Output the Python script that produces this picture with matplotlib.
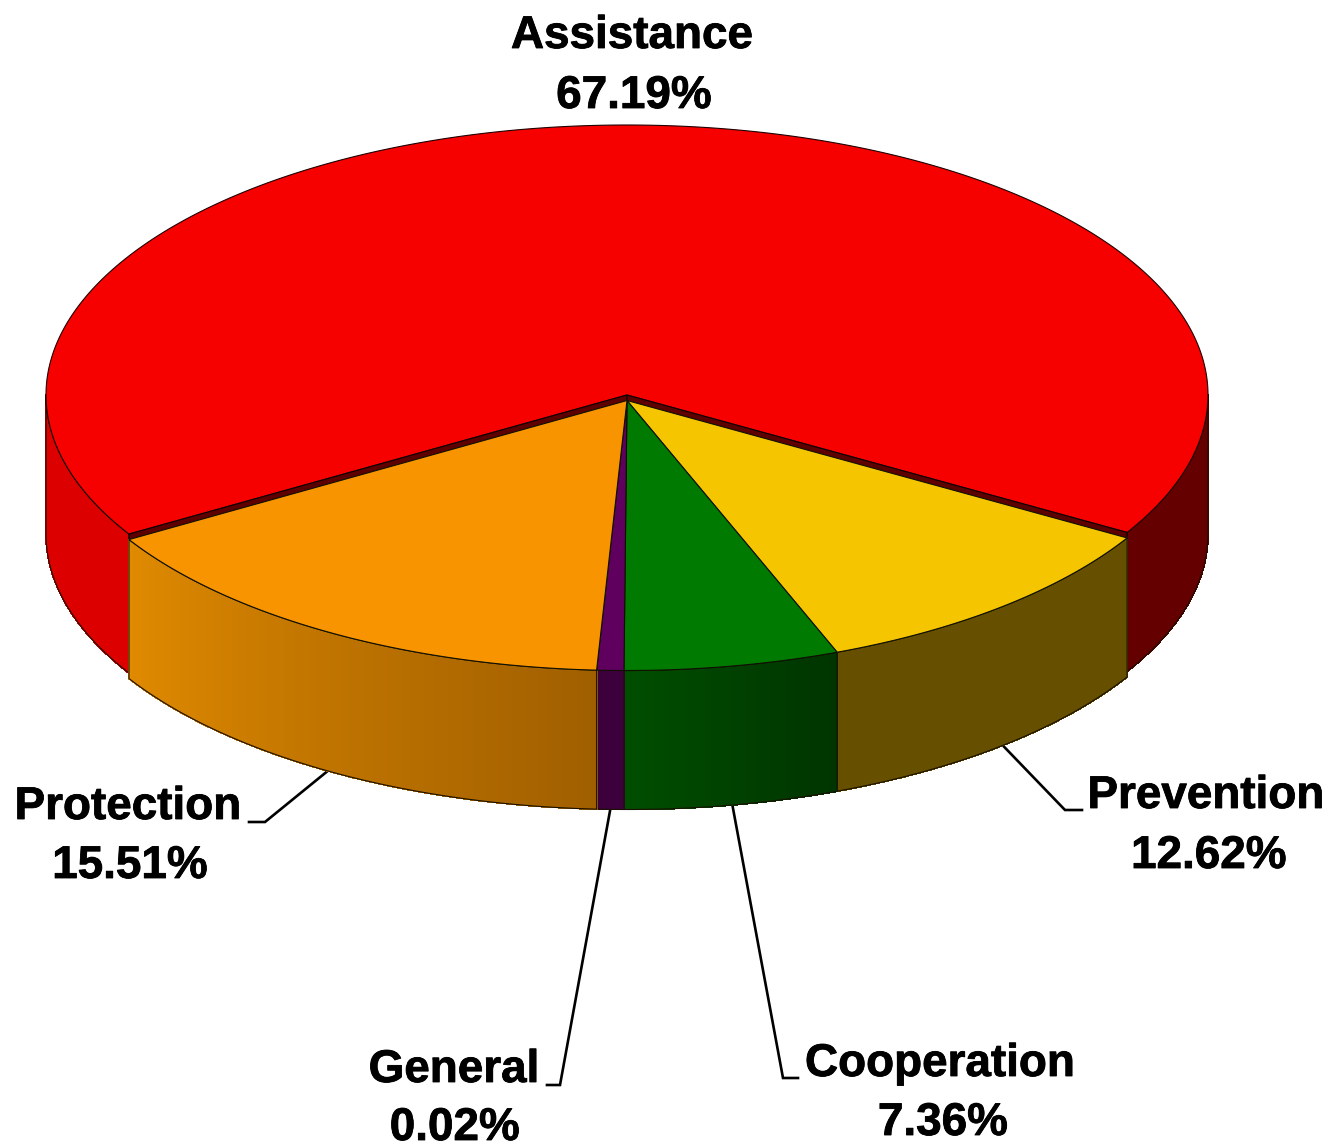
import matplotlib.pyplot as plt
import matplotlib.colors as mcolors
import matplotlib.patheffects as pe
import numpy as np
from matplotlib.collections import PolyCollection

# slices in screen order, going round from the right hand corner of the red slice
labels = ["Prevention", "Cooperation", "General", "Protection", "Assistance"]
percents = ["12.62%", "7.36%", "0.02%", "15.51%", "67.19%"]
# angles as drawn in the picture, they do not follow the printed percents exactly
sweeps = [38.2, 21.5, 2.7, 56.0, 241.6]
top_colors = ["#f5c600", "#007a00", "#5f005f", "#f79400", "#f70000"]
wall_right = ["#665000", "#003400", "#3c003c", "#a05f00", "#640000"]
wall_left = ["#665000", "#004e00", "#3c003c", "#e08a00", "#dc0000"]

START = 30.6
CX, RX, RY, DEPTH = 627, 581, 270, 139
CY_LOW, CY_RED = 400.5, 395

# text centres and leader elbows, in pixels
label_xy = [(1206, 796), (940, 1064), (454, 1070), (128, 807), (632, 36)]
percent_xy = [(1209, 856), (943, 1123), (455, 1128), (130, 866), (634, 96)]
elbows = [
    [(1065, 810), (1082, 810)],
    [(783, 1078), (798, 1078)],
    [(560, 1085), (547, 1085)],
    [(265, 822), (249, 822)],
    None,
]

fig = plt.figure(figsize=(13.3, 11.48), dpi=100)
ax = fig.add_axes([0, 0, 1, 1])
ax.set_xlim(0, 1330)
ax.set_ylim(1148, 0)
ax.axis("off")


def rim(t, cy):
    t = np.radians(t)
    return np.column_stack([CX + RX * np.cos(t), cy + RY * np.sin(t)])


def draw_wall(t0, t1, cy, c0, c1, z):
    # front wall, cut in thin strips so the shading can change along it
    n = max(2, int(abs(t1 - t0) * 2))
    ts = np.linspace(t0, t1, n + 1)
    pts = rim(ts, cy)
    low = pts + [0, DEPTH]
    polys = [[pts[i], pts[i + 1], low[i + 1], low[i]] for i in range(n)]
    a = np.array(mcolors.to_rgb(c0))
    b = np.array(mcolors.to_rgb(c1))
    cols = [a + (b - a) * (i + 0.5) / n for i in range(n)]
    ax.add_collection(
        PolyCollection(
            polys, facecolors=cols, edgecolors=cols, linewidths=0.6,
            antialiaseds=False, zorder=z,
        )
    )
    outline = np.vstack([pts, low[::-1], pts[:1]])
    ax.plot(outline[:, 0], outline[:, 1], color="#1a1000", lw=0.8, zorder=z + 0.1)


edges = START + np.cumsum([0] + sweeps)

# red slice first, the others lie over it a little lower down
t0, t1 = edges[4], edges[5]
draw_wall(t0, 180, CY_RED, wall_left[4], wall_left[4], 1)
draw_wall(360, t1, CY_RED, wall_right[4], wall_right[4], 1)
ts = np.linspace(t0, t1, 500)
top = np.vstack([[CX, CY_RED], rim(ts, CY_RED)])
ax.fill(top[:, 0], top[:, 1], color=top_colors[4], ec="#200000", lw=0.8, zorder=2)
for t in [t0, t1]:
    p = rim(t, CY_RED)[0]
    ax.fill(
        [CX, p[0], p[0], CX],
        [CY_RED, p[1], p[1] + DEPTH, CY_RED + DEPTH],
        color="#5e0000",
        ec="#100000",
        lw=0.8,
        zorder=3,
    )

for i in range(4):
    t0, t1 = edges[i], edges[i + 1]
    draw_wall(t0, t1, CY_LOW, wall_right[i], wall_left[i], 4 + i)

for i in range(4):
    t0, t1 = edges[i], edges[i + 1]
    ts = np.linspace(t0, t1, 120)
    top = np.vstack([[CX, CY_LOW], rim(ts, CY_LOW)])
    ax.fill(top[:, 0], top[:, 1], color=top_colors[i], ec="#101000", lw=0.8, zorder=10 + i)

# leaders and labels
heavy = [pe.withStroke(linewidth=0.6, foreground="black")]
for i, name in enumerate(labels):
    for s, xy in [(name, label_xy[i]), (percents[i], percent_xy[i])]:
        ax.text(
            xy[0], xy[1], s, ha="center", va="center", fontsize=33,
            family="Liberation Sans", fontweight="bold", color="black",
            path_effects=heavy, zorder=20,
        )
    if elbows[i] is None:
        continue
    mid = (edges[i] + edges[i + 1]) / 2
    p = rim(mid, CY_LOW)[0] + [0, DEPTH]
    xs = [p[0]] + [e[0] for e in elbows[i]]
    ys = [p[1]] + [e[1] for e in elbows[i]]
    ax.plot(xs, ys, color="black", lw=1.9, zorder=0.5, solid_joinstyle="miter")

fig.savefig("out.png", dpi=100, facecolor="white")
